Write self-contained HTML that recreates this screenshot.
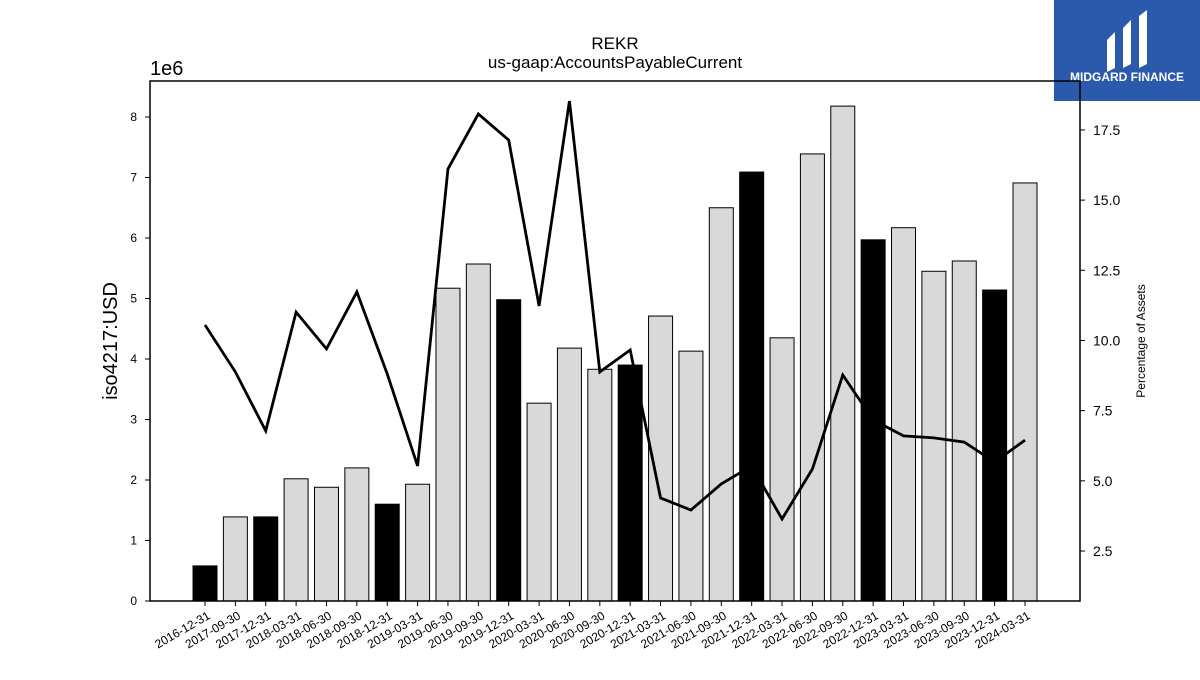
<!DOCTYPE html>
<html><head><meta charset="utf-8"><style>
body{margin:0;background:#fff;width:1200px;height:675px;overflow:hidden;font-family:"Liberation Sans","DejaVu Sans",sans-serif}
</style></head><body>
<svg id="c" width="1200" height="675" xmlns="http://www.w3.org/2000/svg">
<rect x="1054" y="0" width="146" height="101" fill="#2b5aad"/>
<g fill="#fff">
<path d="M1107 40 L1115 32 L1115 68 L1107 72 Z"/><path d="M1123 28 L1131 20 L1131 64 L1123 68 Z"/><path d="M1139 16 L1147 10 L1147 64 L1139 68 Z"/>
</g>
<text x="1127" y="81" font-size="12" font-weight="bold" fill="#fff" text-anchor="middle">MIDGARD FINANCE</text>
<text x="615" y="49" font-size="17" text-anchor="middle">REKR</text>
<text x="615" y="68" font-size="17" text-anchor="middle">us-gaap:AccountsPayableCurrent</text>
<text x="150" y="75" font-size="20">1e6</text>
<text x="117" y="341" font-size="20" text-anchor="middle" transform="rotate(-90 117 341)">iso4217:USD</text>
<text x="1145" y="341" font-size="12" text-anchor="middle" transform="rotate(-90 1145 341)">Percentage of Assets</text>
<g id="bars"></g><g id="ticks"></g>
<rect x="150" y="81" width="930" height="520" fill="none" stroke="#000" stroke-width="1.5"/>
</svg>
<script>
const categories=["2016-12-31","2017-09-30","2017-12-31","2018-03-31","2018-06-30","2018-09-30","2018-12-31","2019-03-31","2019-06-30","2019-09-30","2019-12-31","2020-03-31","2020-06-30","2020-09-30","2020-12-31","2021-03-31","2021-06-30","2021-09-30","2021-12-31","2022-03-31","2022-06-30","2022-09-30","2022-12-31","2023-03-31","2023-06-30","2023-09-30","2023-12-31","2024-03-31"];
const values=[0.58,1.39,1.39,2.02,1.88,2.20,1.60,1.93,5.17,5.57,4.98,3.27,4.18,3.83,3.90,4.71,4.13,6.50,7.09,4.35,7.39,8.18,5.97,6.17,5.45,5.62,5.14,6.91];
const highlighted=[1,0,1,0,0,0,1,0,0,0,1,0,0,0,1,0,0,0,1,0,0,0,1,0,0,0,1,0];
const pct=[10.55,8.88,6.78,11.01,9.70,11.73,8.81,5.53,16.11,18.07,17.14,11.23,18.53,8.88,9.66,4.39,3.96,4.89,5.53,3.64,5.42,8.77,7.17,6.60,6.53,6.38,5.67,6.45];
const leftTicks=[0,1,2,3,4,5,6,7,8];
const rightTicks=[2.5,5.0,7.5,10.0,12.5,15.0,17.5];
const NS="http://www.w3.org/2000/svg";
const X=i=>205+i*(1025-205)/(categories.length-1);
const Y=v=>601-v*60.5;
const Y2=v=>551-(v-2.5)*28.07;
const bars=document.getElementById('bars'),ticks=document.getElementById('ticks'),svg=document.getElementById('c');
function mk(t,a,p){const e=document.createElementNS(NS,t);for(const k in a)e.setAttribute(k,a[k]);p.appendChild(e);return e;}
values.forEach((v,i)=>{
const r=mk('rect',{x:X(i)-12,y:Y(v),width:24,height:601-Y(v),fill:highlighted[i]?'#000':'#d9d9d9',stroke:'#000','stroke-width':1},bars);


mk('line',{x1:X(i),x2:X(i),y1:601,y2:606,stroke:'#000'},ticks);
const t=mk('text',{x:X(i)+6,y:618,'font-size':12,'text-anchor':'end',transform:`rotate(-30 ${X(i)+6} 618)`},ticks);
t.textContent=categories[i];


});
leftTicks.forEach(v=>{
mk('line',{x1:145,x2:150,y1:Y(v),y2:Y(v),stroke:'#000'},ticks);
const t=mk('text',{x:137,y:Y(v)+4,'font-size':12,'text-anchor':'end'},ticks);
t.textContent=v;


});
rightTicks.forEach(v=>{
mk('line',{x1:1080,x2:1085,y1:Y2(v),y2:Y2(v),stroke:'#000'},ticks);
const t=mk('text',{x:1093,y:Y2(v)+5,'font-size':14},ticks);
t.textContent=v.toFixed(1);


});
const line=mk('polyline',{points:pct.map((v,i)=>X(i)+','+Y2(v)).join(' '),fill:'none',stroke:'#000','stroke-width':2.8},svg);


</script>
</body></html>
